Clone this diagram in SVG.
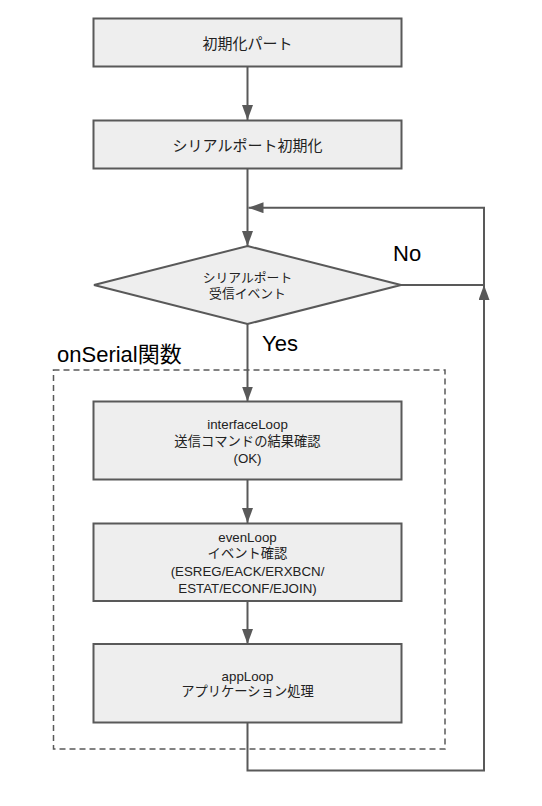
<svg xmlns="http://www.w3.org/2000/svg" width="542" height="806" viewBox="0 0 542 806">
<style>
.box{fill:#eeeeee;stroke:#595959;stroke-width:2}
.t{font-family:"Liberation Sans","Noto Sans CJK JP",sans-serif;font-size:13.3px;fill:#222;text-anchor:middle}
.tl{font-family:"Liberation Sans","Noto Sans CJK JP",sans-serif;font-size:15px;fill:#222;text-anchor:middle}
.ts{font-family:"Liberation Sans","Noto Sans CJK JP",sans-serif;font-size:12.8px;fill:#222;text-anchor:middle}
.lbl{font-family:"Liberation Sans","Noto Sans CJK JP",sans-serif;font-size:22px;fill:#000}
.c{fill:none;stroke:#595959;stroke-width:2}
.dash{fill:none;stroke:#595959;stroke-width:1.5;stroke-dasharray:6,4}
</style>
<defs>
<marker id="ah" markerWidth="15" markerHeight="11" refX="15" refY="5.5" orient="auto" markerUnits="userSpaceOnUse">
<path d="M0,0 L15,5.5 L0,11 Z" fill="#595959"/>
</marker>
</defs>
<rect width="542" height="806" fill="#ffffff"/>
<g id="group-onSerial">
<rect class="dash" x="53.5" y="370" width="391.5" height="379"/>
<text class="lbl" x="57" y="362">onSerial関数</text>
</g>
<g id="connectors">
<line class="c" x1="247.5" y1="67" x2="247.5" y2="120" marker-end="url(#ah)"/>
<line class="c" x1="247.5" y1="169" x2="247.5" y2="246" marker-end="url(#ah)"/>
<polyline class="c" points="401,285 484,285 484,207.7 248.5,207.7" marker-end="url(#ah)"/>
<line class="c" x1="247.5" y1="324" x2="247.5" y2="401.5" marker-end="url(#ah)"/>
<line class="c" x1="247.5" y1="480" x2="247.5" y2="523" marker-end="url(#ah)"/>
<line class="c" x1="247.5" y1="601" x2="247.5" y2="644" marker-end="url(#ah)"/>
<polyline class="c" points="247.5,723 247.5,770.5 484,770.5 484,285" marker-end="url(#ah)"/>
<text class="lbl" x="393" y="261">No</text>
<text class="lbl" x="262" y="351">Yes</text>
</g>
<g id="node-init">
<rect class="box" x="93.5" y="18.5" width="308" height="48"/>
<text class="tl" x="247.5" y="48.5">初期化パート</text>
</g>
<g id="node-serialinit">
<rect class="box" x="93.5" y="120.5" width="308" height="48"/>
<text class="tl" x="247.5" y="150.5">シリアルポート初期化</text>
</g>
<g id="node-decision">
<polygon class="box" points="247.5,246 401,285 247.5,324 94,285"/>
<text class="ts" x="247.5" y="281.5">シリアルポート</text>
<text class="ts" x="247.5" y="298">受信イベント</text>
</g>
<g id="node-interfaceLoop">
<rect class="box" x="93.5" y="401.5" width="308" height="78"/>
<text class="t" x="247.5" y="428.5">interfaceLoop</text>
<text class="t" x="247.5" y="445.5">送信コマンドの結果確認</text>
<text class="t" x="247.5" y="462.5">(OK)</text>
</g>
<g id="node-evenLoop">
<rect class="box" x="93.5" y="523.5" width="308" height="77.5"/>
<text class="t" x="247.5" y="541.5">evenLoop</text>
<text class="t" x="247.5" y="558">イベント確認</text>
<text class="t" x="247.5" y="575.5">(ESREG/EACK/ERXBCN/</text>
<text class="t" x="247.5" y="592.5">ESTAT/ECONF/EJOIN)</text>
</g>
<g id="node-appLoop">
<rect class="box" x="93.5" y="644" width="308" height="78.5"/>
<text class="t" x="247.5" y="680.5">appLoop</text>
<text class="t" x="247.5" y="696">アプリケーション処理</text>
</g>
</svg>
